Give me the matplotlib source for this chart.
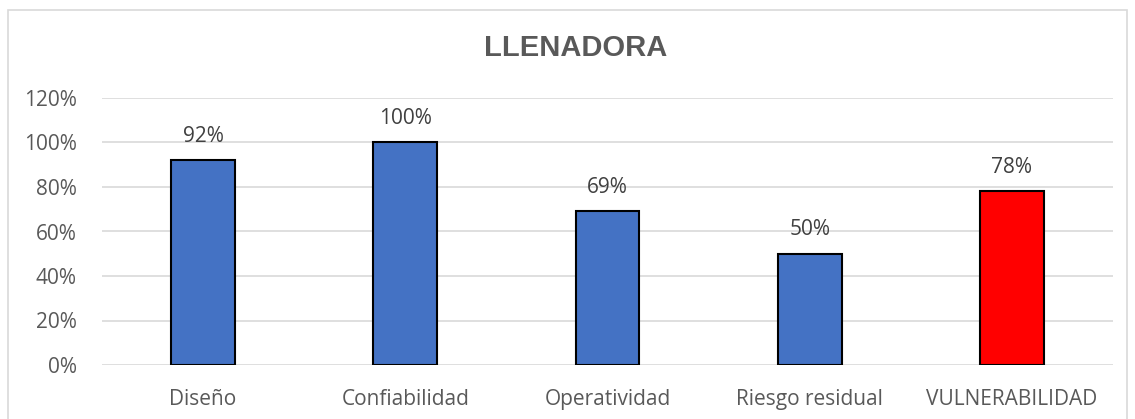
import matplotlib.pyplot as plt
from matplotlib.patches import Rectangle

categories = ['Diseño', 'Confiabilidad', 'Operatividad', 'Riesgo residual', 'VULNERABILIDAD']
values = [0.92, 1.00, 0.69, 0.50, 0.78]
labels = ['92%', '100%', '69%', '50%', '78%']
colors = ['#4472C4', '#4472C4', '#4472C4', '#4472C4', '#FF0000']
yticks = [0, 0.2, 0.4, 0.6, 0.8, 1.0, 1.2]

plt.rcParams['font.family'] = ['Open Sans', 'DejaVu Sans']

fig = plt.figure(figsize=(11.35, 4.19), dpi=100)
ax = fig.add_axes([102 / 1135, 1 - 365 / 419, (1113 - 102) / 1135, (365 - 98) / 419])

# outer chart frame
fig.patches.append(Rectangle((8 / 1135, -0.05), (1127 - 8) / 1135, 1 - 10 / 419 + 0.05,
                             transform=fig.transFigure, fill=False,
                             edgecolor='#D9D9D9', linewidth=1.2))

x = range(len(categories))
ax.bar(x, values, width=0.316, color=colors, edgecolor='black', linewidth=1.5, zorder=3)
for i, (v, t) in enumerate(zip(values, labels)):
    ax.text(i, v + 0.06, t, ha='center', va='bottom', fontsize=15, color='#404040')

ax.set_xlim(-0.5, len(categories) - 0.5)
ax.set_ylim(0, 1.2)
ax.set_yticks(yticks)
ax.set_yticklabels([f'{int(round(t * 100))}%' for t in yticks])
ax.set_xticks(list(x))
ax.set_xticklabels(categories)
ax.tick_params(axis='both', length=0, labelsize=15, labelcolor='#595959')
ax.tick_params(axis='y', pad=18)
ax.tick_params(axis='x', pad=17)
ax.yaxis.grid(True, color='#D9D9D9', linewidth=1.2, zorder=0)
ax.set_axisbelow(True)
for s in ax.spines.values():
    s.set_visible(False)

fig.text(576 / 1135, 1 - 48 / 419, 'LLENADORA', ha='center', va='center',
         fontsize=21, fontweight='bold', color='#595959', family='Liberation Sans')

fig.savefig('out.png', dpi=100)
